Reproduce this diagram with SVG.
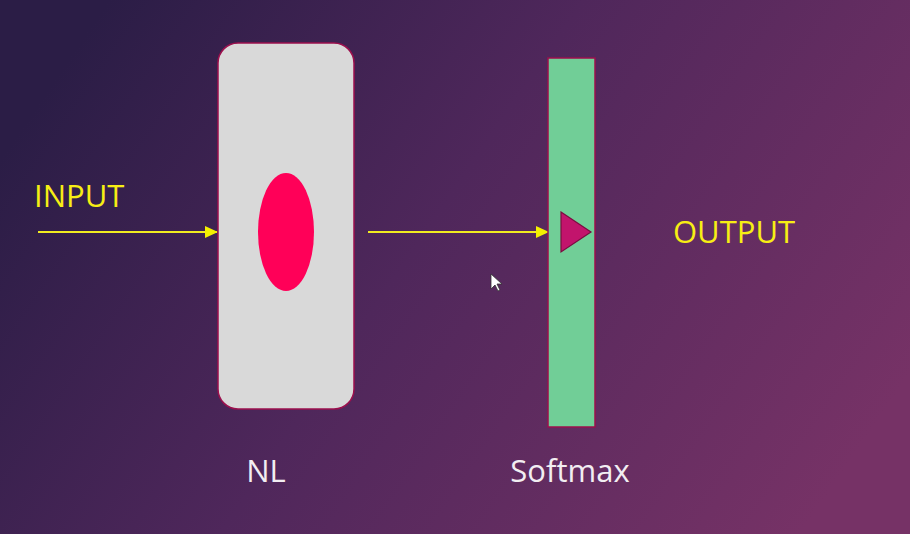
<svg xmlns="http://www.w3.org/2000/svg" width="910" height="534" viewBox="0 0 910 534">
  <defs>
    <linearGradient id="bg" x1="0" y1="0.3" x2="1" y2="0.7">
      <stop offset="0" stop-color="#2b1d46"/>
      <stop offset="0.45" stop-color="#4f275b"/>
      <stop offset="1" stop-color="#763266"/>
    </linearGradient>
    <marker id="arr" markerWidth="13" markerHeight="12" refX="12" refY="6" orient="auto" markerUnits="userSpaceOnUse" viewBox="0 0 13 12">
      <path d="M0,0 L13,6 L0,12 Z" fill="#f4f000"/>
    </marker>
    <style>
      .lbl-y { font-family: "Open Sans", "Noto Sans", sans-serif; font-size: 31px; fill: #f7ee14; }
      .lbl-w { font-family: "Open Sans", "Noto Sans", sans-serif; font-size: 31px; fill: #f2eef2; }
      .conn { stroke: #f0ec20; stroke-width: 2.2; fill: none; }
    </style>
  </defs>
  <rect x="0" y="0" width="910" height="534" fill="url(#bg)"/>

  <g id="connectors">
    <line class="conn" x1="38" y1="232" x2="217" y2="232" marker-end="url(#arr)"/>
    <line class="conn" x1="368" y1="232" x2="548" y2="232" marker-end="url(#arr)"/>
  </g>

  <g id="node-input">
    <text class="lbl-y" x="34" y="207">INPUT</text>
  </g>

  <g id="node-nl">
    <rect x="218" y="43" width="136" height="366" rx="20" ry="20" fill="#d9d9d9" stroke="#9c0f4d" stroke-width="1.5"/>
    <ellipse cx="286" cy="232" rx="28" ry="59" fill="#ff0058"/>
    <text class="lbl-w" x="266" y="482" text-anchor="middle">NL</text>
  </g>

  <g id="node-softmax">
    <rect x="548" y="58" width="47" height="369" fill="#71ce97" stroke="#9c0f4d" stroke-width="1.5"/>
    <polygon points="561,212 591,232 561,252" fill="#c2146c" stroke="#7a0c40" stroke-width="1.2"/>
    <text class="lbl-w" x="570" y="482" text-anchor="middle">Softmax</text>
  </g>

  <g id="node-output">
    <text class="lbl-y" x="673" y="243">OUTPUT</text>
  </g>

  <polygon points="491,274 491,289 495,285 498,291 500,290 497,284 502,284" fill="#ffffff" stroke="#333" stroke-width="0.8"/>
</svg>
